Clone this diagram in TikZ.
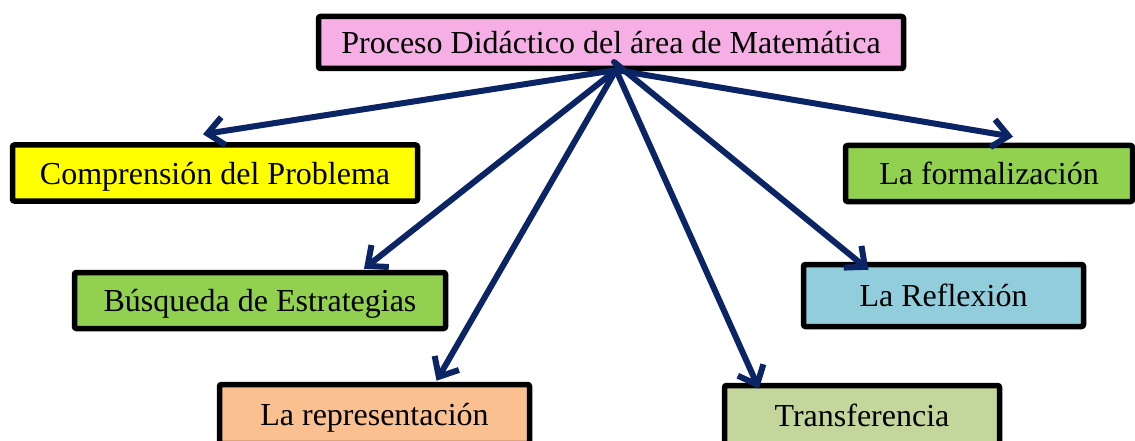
\documentclass[tikz,border=0pt]{standalone}
\usepackage{fontspec}
\setmainfont{Liberation Serif}
\usetikzlibrary{arrows.meta}
\definecolor{pinkbg}{HTML}{F5AFE5}
\definecolor{yellowbg}{HTML}{FFFF00}
\definecolor{greenbg}{HTML}{92D050}
\definecolor{orangebg}{HTML}{FAC090}
\definecolor{olivebg}{HTML}{C3D69B}
\definecolor{bluebg}{HTML}{92CDDC}
\definecolor{navy}{HTML}{0B2464}
\begin{document}
\begin{tikzpicture}[x=1pt,y=-1pt,
  box/.style={draw=black, line width=5.5pt, rounded corners=2pt, inner sep=0pt,
    text height=26pt, text depth=4pt,
    font=\fontsize{32}{36}\selectfont, text=black},
  conn/.style={draw=navy, line width=6pt, line cap=round,
    -{Straight Barb[length=16pt,width=28pt]}}]
\useasboundingbox (0,0) rectangle (1135,441);
\node[box, fill=pinkbg, minimum width=585pt, minimum height=52pt] (top) at (611,42.5) {Proceso Didáctico del área de Matemática};
\node[box, fill=yellowbg, minimum width=405pt, minimum height=56pt] (comp) at (215,173) {Comprensión del Problema};
\node[box, fill=greenbg, minimum width=371pt, minimum height=56pt] (busq) at (260,300.5) {Búsqueda de Estrategias};
\node[box, fill=orangebg, minimum width=310pt, minimum height=59pt] (repr) at (374.5,414) {La representación};
\node[box, fill=olivebg, minimum width=275pt, minimum height=59pt] (transf) at (862,415) {Transferencia};
\node[box, fill=bluebg, minimum width=280pt, minimum height=62pt] (refl) at (943.5,295.5) {La Reflexión};
\node[box, fill=greenbg, minimum width=287pt, minimum height=56pt] (form) at (989,173.5) {La formalización};
\coordinate (o) at (616,70);
\coordinate (o2) at (614,62);
\draw[conn] (o) -- ([xshift=-12pt,yshift=8pt]comp.north);
\draw[conn] (o) -- ([xshift=104pt,yshift=1pt]busq.north);
\draw[conn] (o) -- ([xshift=62pt,yshift=1pt]repr.north);
\draw[conn] (o) -- ([xshift=-103pt,yshift=-6pt]transf.north);
\draw[conn] (o2) -- ([xshift=-75pt,yshift=-8pt]refl.north);
\draw[conn] (o) -- ([xshift=24pt,yshift=6pt]form.north);
\end{tikzpicture}
\end{document}
